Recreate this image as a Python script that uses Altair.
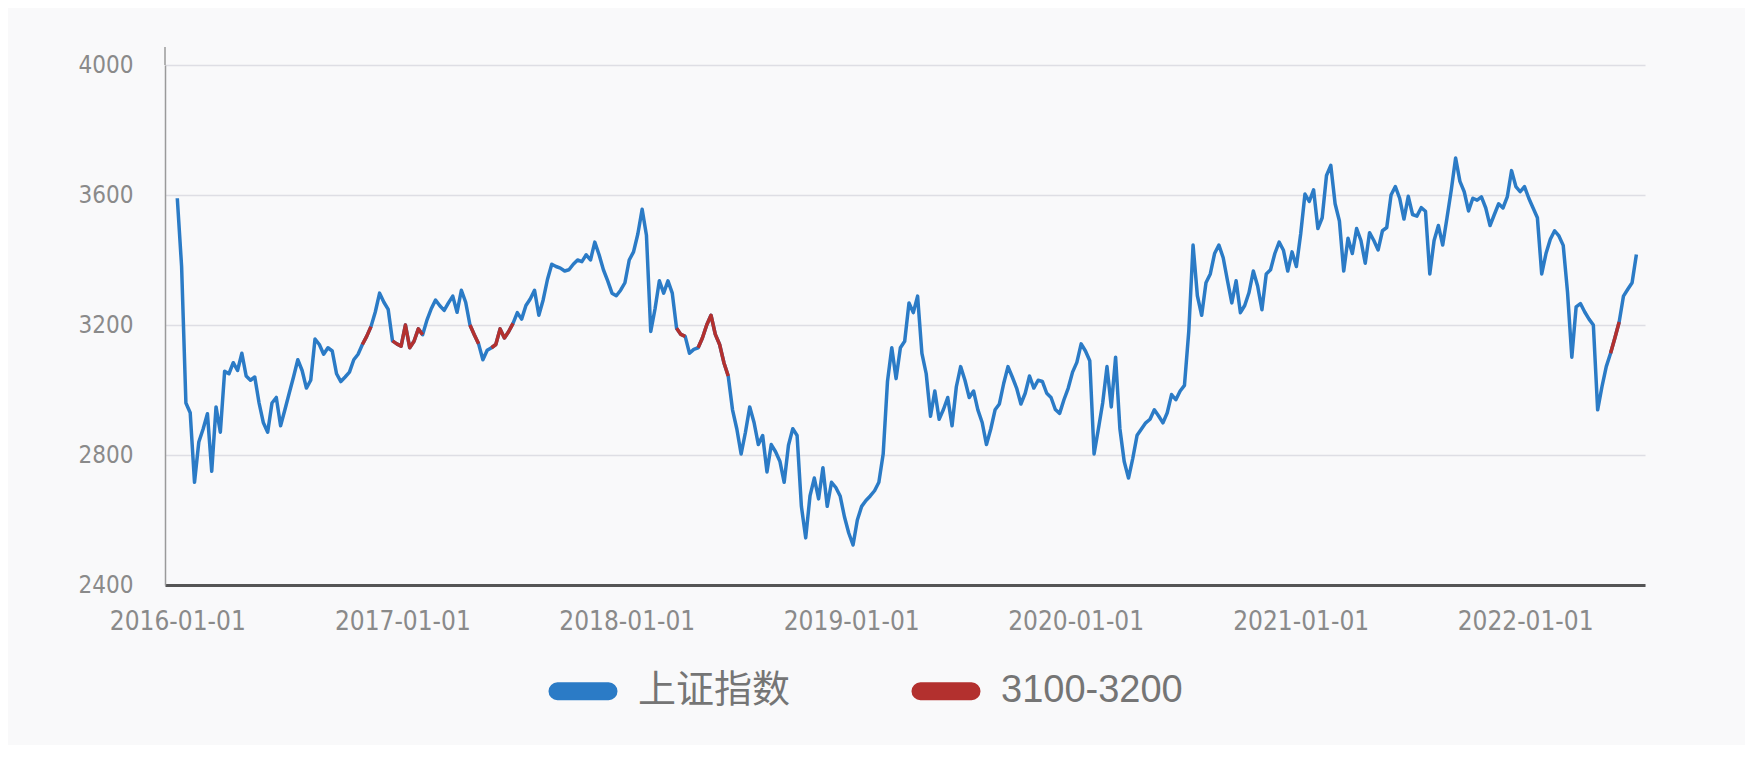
import altair as alt
import pandas as pd

# ---------------- data (weekly readings) ----------------
SERIES_MAIN = "上证指数"
SERIES_BAND = "3100-3200"

YEAR_STARTS = ["2016-01-01", "2017-01-06", "2018-01-05", "2019-01-04",
               "2020-01-03", "2021-01-01", "2022-01-07"]

V2016 = [3590, 3380, 2960, 2930, 2716, 2840, 2880, 2927, 2750, 2948, 2870, 3058, 3050,
         3084, 3060, 3113, 3043, 3030, 3040, 2960, 2899, 2870, 2960, 2977, 2890, 2939,
         2990, 3040, 3093, 3060, 3006, 3030, 3157, 3140, 3110, 3130, 3120, 3050, 3026,
         3040, 3055, 3093, 3110, 3140, 3165, 3195, 3240, 3298, 3270, 3248, 3151, 3142, 3135]
V2017 = [3200, 3130, 3150, 3188, 3170, 3215, 3250, 3277, 3259, 3245, 3268, 3289, 3239,
         3307, 3270, 3200, 3170, 3142, 3093, 3122, 3130, 3140, 3188, 3160, 3180, 3205,
         3238, 3218, 3260, 3280, 3307, 3230, 3277, 3340, 3387, 3380, 3375, 3366, 3370,
         3387, 3400, 3395, 3416, 3400, 3455, 3416, 3370, 3336, 3298, 3290, 3307, 3330]
V2018 = [3400, 3425, 3480, 3556, 3476, 3180, 3250, 3336, 3298, 3336, 3298, 3190, 3171,
         3165, 3113, 3125, 3130, 3160, 3200, 3230, 3171, 3140, 3084, 3043, 2939, 2880,
         2803, 2870, 2948, 2900, 2832, 2860, 2748, 2832, 2810, 2781, 2716, 2830, 2881,
         2860, 2642, 2545, 2674, 2729, 2665, 2761, 2642, 2716, 2700, 2674, 2610, 2560]
V2019 = [2523, 2600, 2642, 2660, 2674, 2690, 2716, 2803, 3026, 3130, 3035, 3130, 3150,
         3268, 3238, 3289, 3113, 3050, 2919, 2997, 2910, 2940, 2977, 2890, 3010, 3072,
         3030, 2977, 2997, 2939, 2900, 2832, 2880, 2939, 2957, 3020, 3072, 3040, 3006,
         2957, 2990, 3043, 3006, 3030, 3026, 2990, 2977, 2940, 2928, 2970, 3006, 3055]
V2020 = [3085, 3142, 3120, 3090, 2803, 2880, 2960, 3072, 2948, 3101, 2881, 2780, 2729,
         2790, 2861, 2880, 2899, 2910, 2939, 2920, 2899, 2930, 2986, 2970, 2997, 3014,
         3180, 3446, 3290, 3230, 3330, 3357, 3420, 3446, 3407, 3336, 3268, 3336, 3238,
         3260, 3300, 3366, 3320, 3247, 3357, 3370, 3420, 3455, 3430, 3366, 3425, 3380]
V2021 = [3480, 3603, 3580, 3616, 3497, 3530, 3660, 3691, 3573, 3520, 3366, 3467, 3420,
         3497, 3460, 3390, 3484, 3460, 3431, 3490, 3500, 3600, 3626, 3590, 3526, 3596,
         3540, 3535, 3561, 3550, 3357, 3460, 3506, 3446, 3530, 3616, 3714, 3642, 3610,
         3551, 3590, 3584, 3594, 3560, 3506, 3540, 3573, 3560, 3594, 3675, 3626, 3610, 3626]
V2022 = [3590, 3560, 3530, 3357, 3420, 3464, 3490, 3474, 3445, 3301, 3101, 3256, 3266,
         3240, 3218, 3200, 2939, 3010, 3072, 3113, 3160, 3209, 3289, 3310, 3330, 3417]

YEAR_VALUES = [V2016, V2017, V2018, V2019, V2020, V2021, V2022]

# periods drawn in the highlight colour
RED_RANGES = [("2016-10-28", "2016-11-11"), ("2016-12-16", "2017-02-03"),
              ("2017-04-21", "2017-05-05"), ("2017-05-26", "2017-06-30"),
              ("2018-03-23", "2018-04-06"), ("2018-04-27", "2018-06-15"),
              ("2022-05-20", "2022-06-03")]

X_TICK_YEARS = [2016, 2017, 2018, 2019, 2020, 2021, 2022]
Y_TICKS = [2400, 2800, 3200, 3600, 4000]

BLUE = "#2b7bc6"
RED = "#b3302e"

# ---------------- build table ----------------
frames = []
for start, vals in zip(YEAR_STARTS, YEAR_VALUES):
    frames.append(pd.DataFrame({"date": pd.date_range(start, periods=len(vals), freq="7D"),
                                "value": vals}))
main = pd.concat(frames, ignore_index=True)
main["series"] = SERIES_MAIN
main["seg"] = "main"

reds = []
for k, (s, e) in enumerate(RED_RANGES):
    part = main[(main["date"] >= pd.Timestamp(s)) & (main["date"] <= pd.Timestamp(e))].copy()
    part["series"] = SERIES_BAND
    part["seg"] = f"r{k}"
    reds.append(part)
red = pd.concat(reds, ignore_index=True)

# ---------------- chart ----------------
AXIS_FONT = "DejaVu Sans Condensed, Liberation Sans, sans-serif"
LEGEND_FONT = "Liberation Sans, Noto Sans CJK SC, sans-serif"

capsule = ("M-0.74,-0.13 L0.74,-0.13 A0.13,0.13 0 0 1 0.74,0.13 "
           "L-0.74,0.13 A0.13,0.13 0 0 1 -0.74,-0.13 Z")

x_enc = alt.X(
    "date:T",
    title=None,
    scale=alt.Scale(domain=[alt.DateTime(year=2015, month=12, date=12),
                            alt.DateTime(year=2022, month=7, date=15)]),
    axis=alt.Axis(values=[alt.DateTime(year=y, month=1, date=1) for y in X_TICK_YEARS],
                  format="%Y-%m-%d", labelFontSize=26, labelColor="#8a8a8a",
                  labelFont=AXIS_FONT, labelPadding=23, labelFlush=False,
                  labelOverlap=False, ticks=False, tickSize=0, grid=False,
                  domainColor="#555555", domainWidth=3),
)
y_enc = alt.Y(
    "value:Q",
    title=None,
    scale=alt.Scale(domain=[2400, 4000], nice=False, zero=False),
    axis=alt.Axis(values=Y_TICKS, format="d", labelFontSize=24, labelColor="#8a8a8a",
                  labelFont=AXIS_FONT, labelPadding=32, labelFlush=False,
                  ticks=False, tickSize=0, grid=True, gridColor="#dedee4",
                  gridWidth=1.5, domainColor="#9a9a9a", domainWidth=1.5),
)
legend = alt.Legend(
    title=None, orient="none", legendX=379, legendY=587, direction="horizontal",
    symbolType=capsule, symbolSize=4761, symbolStrokeWidth=9, symbolOpacity=1,
    labelFontSize=38, labelFont=LEGEND_FONT, labelColor="#757575",
    labelOffset=16, columnPadding=106, labelLimit=400, padding=0,
)
color_enc = alt.Color("series:N",
                      scale=alt.Scale(domain=[SERIES_MAIN, SERIES_BAND], range=[BLUE, RED]),
                      legend=legend)

blue_layer = alt.Chart(main).mark_line(strokeWidth=3.5, strokeJoin="round").encode(
    x=x_enc, y=y_enc, color=color_enc, detail="seg:N")
red_layer = alt.Chart(red).mark_line(strokeWidth=3.5, strokeJoin="round").encode(
    x=x_enc, y=y_enc, color=color_enc, detail="seg:N")

# the vertical axis line runs a little above the top gridline in the original
axis_ext = alt.Chart(pd.DataFrame({"k": [0]})).mark_rule(
    color="#9a9a9a", strokeWidth=1.5
).encode(x=alt.value(0), y=alt.value(-18), y2=alt.value(0))

chart = alt.layer(blue_layer, red_layer, axis_ext).properties(
    width=1480, height=520,
    autosize=alt.AutoSizeParams(type="none"),
    padding={"left": 157, "top": 57, "right": 100, "bottom": 160},
    background="#f9f9fa",
).configure_view(stroke=None)

chart.save("out.html", embed_options={"renderer": "svg", "actions": False})
